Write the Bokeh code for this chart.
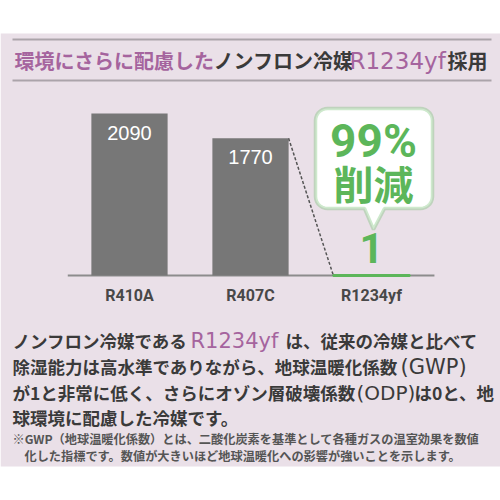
import numpy as np
from bokeh.plotting import figure
from bokeh.models import FactorRange, Range1d, ColumnDataSource, Label, BoxAnnotation, PolyAnnotation
from bokeh.transform import dodge
from bokeh.core.properties import value
from bokeh.embed import file_html
from bokeh.resources import INLINE

# ---------------- data ----------------
categories = ["R410A", "R407C", "R1234yf"]
gwp = [2090, 1770, 1]
value_labels = ["2090", "1770", "1"]
bar_colors = ["#777777", "#777777", "#5cb65a"]
callout_lines = ["99%", "削減"]
title_parts = ["環境にさらに配慮した", "ノンフロン冷媒", "R1234yf", "採用"]
body_line1 = ["ノンフロン冷媒である", "R1234yf", "は、従来の冷媒と比べて"]
body_line2 = ["除湿能力は高水準でありながら、地球温暖化係数", "(GWP)"]
body_line3 = ["が1と非常に低く、さらにオゾン層破壊係数", "(ODP)", "は0と、地"]
body_line4 = ["球環境に配慮した冷媒です。"]
note_lines = [
    "※GWP（地球温暖化係数）とは、二酸化炭素を基準として各種ガスの温室効果を数値",
    "化した指標です。数値が大きいほど地球温暖化への影響が強いことを示します。",
]

PURPLE = "#a5649e"
DARK = "#3a3a3a"
GREEN = "#5cb65a"
PINK = "#eae0e8"
JP = "Noto Sans CJK JP"
LAT = "DejaVu Sans"
HEAVY = "Roboto"

W = H = 500
s = 162 / 2090.0  # px per GWP unit
y0 = -225 / s
p = figure(width=W, height=H,
           x_range=FactorRange(*categories, range_padding=0.566, range_padding_units="absolute"),
           y_range=Range1d(y0, y0 + H / s),
           output_backend="svg", toolbar_location=None,
           x_axis_location=None, y_axis_location=None, min_border=0)
p.outline_line_color = None
p.background_fill_color = "white"
p.border_fill_color = "white"
p.grid.visible = False


def sy(v):
    return H - v


# pink panel
p.add_layout(BoxAnnotation(left=0, right=W, top=sy(33), bottom=sy(466),
                           left_units="screen", right_units="screen",
                           top_units="screen", bottom_units="screen",
                           fill_color=PINK, fill_alpha=1, line_color=None, level="underlay"))

# title rules
for yy in (39, 80):
    p.add_layout(BoxAnnotation(left=12, right=491, top=sy(yy - 1), bottom=sy(yy + 1),
                               left_units="screen", right_units="screen",
                               top_units="screen", bottom_units="screen",
                               fill_color="#aba4aa", fill_alpha=1, line_color=None))

# baseline
bl = ColumnDataSource(dict(a=[categories[0]], b=[categories[-1]], z=[0]))
p.segment(x0=dodge("a", -0.51, range=p.x_range), y0="z",
          x1=dodge("b", 0.52, range=p.x_range), y1="z",
          line_color="#8c8c8c", line_width=2, source=bl)

# bars
src = ColumnDataSource(dict(cat=categories, gwp=gwp, color=bar_colors,
                            lw=[0 if v > 10 else 3 for v in gwp]))
p.vbar(x="cat", top="gwp", bottom=0, width=0.63, fill_color="color",
       line_color="color", line_width="lw", source=src)

# dashed connector
con = ColumnDataSource(dict(c0=[categories[1]], c1=[categories[2]], v0=[gwp[1]], v1=[0]))
p.segment(x0=dodge("c0", 0.315, range=p.x_range), y0="v0",
          x1=dodge("c1", -0.315, range=p.x_range), y1="v1",
          line_color="#555555", line_width=1.5, line_dash="3 2", source=con)

# value labels inside grey bars
vsrc = ColumnDataSource(dict(cat=categories[:2], gwp=gwp[:2], t=value_labels[:2]))
p.text(x="cat", y="gwp", text="t", y_offset=19, text_align="center", text_baseline="middle",
       text_color="white", text_font=value("Liberation Sans"), text_font_size="20px", source=vsrc)

# green value
gsrc = ColumnDataSource(dict(cat=categories[2:], gwp=gwp[2:], t=value_labels[2:]))
p.text(x="cat", y="gwp", text="t", y_offset=-27, text_align="center", text_baseline="middle",
       text_color=GREEN, text_font=value(HEAVY), text_font_style="bold", text_font_size="42px", source=gsrc)

# category labels
csrc = ColumnDataSource(dict(cat=categories, z=[0] * 3))
p.text(x="cat", y="z", text="cat", y_offset=20, text_align="center", text_baseline="middle",
       text_color="#484848", text_font=value(HEAVY), text_font_style="bold", text_font_size="16px", source=csrc)

# callout balloon
L, R, T, B, r = 315, 432, 108, 208, 12
tip = (373, 229)
pl, pr = 364, 384
pts = [(L + r, T), (R - r, T)]
for a in np.linspace(-np.pi / 2, 0, 8):
    pts.append((R - r + r * np.cos(a), T + r + r * np.sin(a)))
for a in np.linspace(0, np.pi / 2, 8):
    pts.append((R - r + r * np.cos(a), B - r + r * np.sin(a)))
pts += [(pr, B), tip, (pl, B)]
for a in np.linspace(np.pi / 2, np.pi, 8):
    pts.append((L + r + r * np.cos(a), B - r + r * np.sin(a)))
for a in np.linspace(np.pi, 1.5 * np.pi, 8):
    pts.append((L + r + r * np.cos(a), T + r + r * np.sin(a)))
p.add_layout(PolyAnnotation(xs=[float(q[0]) for q in pts], ys=[float(sy(q[1])) for q in pts],
                            xs_units="screen", ys_units="screen",
                            fill_color="white", fill_alpha=1, line_color=GREEN, line_width=3.5))
p.add_layout(Label(x=373, y=sy(140), x_units="screen", y_units="screen", text=callout_lines[0],
                   text_align="center", text_baseline="middle", text_color=GREEN,
                   text_font=HEAVY, text_font_style="bold", text_font_size="46px"))
p.add_layout(Label(x=373, y=sy(182), x_units="screen", y_units="screen", text=callout_lines[1],
                   text_align="center", text_baseline="middle", text_color=GREEN,
                   text_font=JP, text_font_style="bold", text_font_size="40px"))


def lab(x, y, t, size, color, font=JP, style="bold"):
    p.add_layout(Label(x=x, y=sy(y), x_units="screen", y_units="screen", text=t,
                       text_align="left", text_baseline="middle", text_color=color,
                       text_font=font, text_font_style=style, text_font_size=size))


# title
lab(14, 60, title_parts[0], "20px", PURPLE)
lab(213, 60, title_parts[1], "20px", DARK)
lab(349, 60, title_parts[2], "23px", PURPLE, font=LAT, style="normal")
lab(447, 60, title_parts[3], "20px", DARK)

# body text
BS = "17.5px"
lab(12, 340, body_line1[0], BS, DARK)
lab(190, 340, body_line1[1], "21px", PURPLE, font=LAT, style="normal")
lab(285, 340, body_line1[2], BS, DARK)

lab(12, 366, body_line2[0], BS, DARK)
lab(400, 366, body_line2[1], "21px", DARK, font=LAT, style="normal")

lab(12, 392, body_line3[0], BS, DARK)
lab(356, 392, body_line3[1], "20px", DARK, font=LAT, style="normal")
lab(414, 392, body_line3[2], BS, DARK)

lab(12, 417, body_line4[0], BS, DARK)

# footnote
lab(12, 438, note_lines[0], "12.2px", "#555555")
lab(24, 455, note_lines[1], "12.2px", "#555555")

open("out.html", "w").write(file_html(p, INLINE))
